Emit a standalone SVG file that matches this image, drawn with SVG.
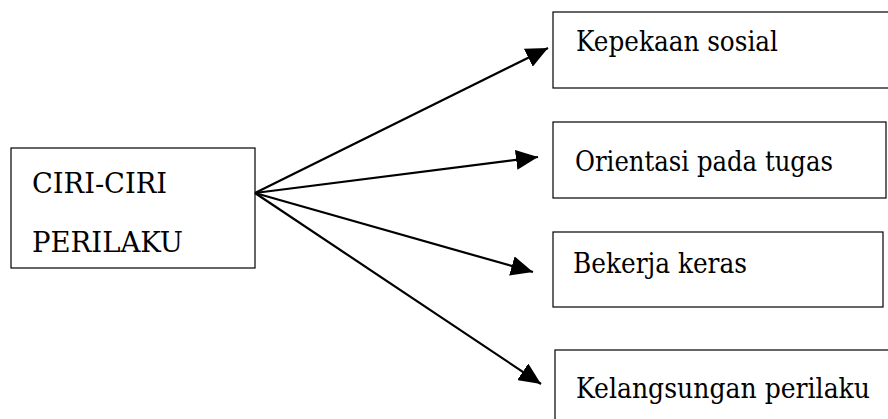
<svg xmlns="http://www.w3.org/2000/svg" width="888" height="419" viewBox="0 0 888 419">
  <style>
    .box { fill: #ffffff; stroke: #000000; stroke-width: 1.2; }
    .label { font-family: "DejaVu Serif", serif; font-size: 28px; fill: #000000; }
    .link { stroke: #000000; stroke-width: 2.2; fill: none; marker-end: url(#head); }
  </style>
  <defs>
    <!-- filled triangular arrowhead, sized in user units -->
    <marker id="head" markerUnits="userSpaceOnUse" markerWidth="24" markerHeight="20" viewBox="0 0 24 20" refX="22" refY="10" orient="auto">
      <path d="M0,0 L22,10 L0,20 Z" fill="#000000"/>
    </marker>
  </defs>
  <rect width="888" height="419" fill="#ffffff"/>

  <g id="ciri-ciri-perilaku">
    <rect class="box" x="11" y="148" width="244" height="120"/>
    <text class="label" x="32" y="193" textLength="135" lengthAdjust="spacingAndGlyphs">CIRI-CIRI</text>
    <text class="label" x="32" y="252" textLength="151" lengthAdjust="spacingAndGlyphs">PERILAKU</text>
  </g>

  <g id="kepekaan-sosial">
    <rect class="box" x="553" y="12" width="340" height="76"/>
    <text class="label" x="576" y="51" textLength="202" lengthAdjust="spacingAndGlyphs">Kepekaan sosial</text>
  </g>

  <g id="orientasi-pada-tugas">
    <rect class="box" x="553" y="122" width="333" height="76"/>
    <text class="label" x="575" y="171" textLength="258" lengthAdjust="spacingAndGlyphs">Orientasi pada tugas</text>
  </g>

  <g id="bekerja-keras">
    <rect class="box" x="553" y="232" width="330" height="75"/>
    <text class="label" x="573" y="273" textLength="174" lengthAdjust="spacingAndGlyphs">Bekerja keras</text>
  </g>

  <g id="kelangsungan-perilaku">
    <rect class="box" x="555" y="350" width="340" height="80"/>
    <text class="label" x="576" y="398" textLength="294" lengthAdjust="spacingAndGlyphs">Kelangsungan perilaku</text>
  </g>

  <g id="connectors">
    <line class="link" x1="255" y1="193" x2="548" y2="48"/>
    <line class="link" x1="255" y1="193" x2="538" y2="157"/>
    <line class="link" x1="255" y1="193" x2="533" y2="272"/>
    <line class="link" x1="255" y1="193" x2="541" y2="384"/>
  </g>
</svg>
